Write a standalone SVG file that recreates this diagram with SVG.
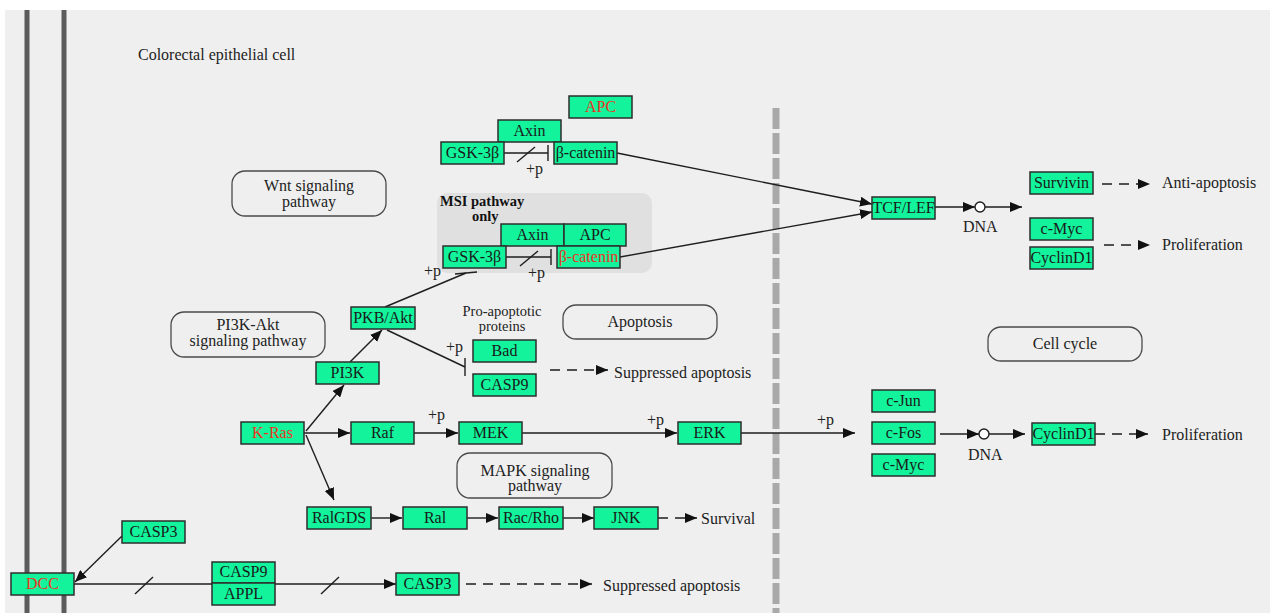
<svg xmlns="http://www.w3.org/2000/svg" width="1270" height="613" viewBox="0 0 1270 613">
<style>
.bg{fill:#efefef}
.n rect{fill:#12f39b;stroke:#2e2e2e;stroke-width:1.5}
.n text,.lbl{font-family:"Liberation Serif","Times New Roman",serif;font-size:16px;fill:#1a1a1a}
.n text{text-anchor:middle}
.red{fill:#ee3322 !important}
.pw rect{fill:none;stroke:#4a4a4a;stroke-width:1.3}
.pw text{font-family:"Liberation Serif","Times New Roman",serif;font-size:16px;fill:#222;text-anchor:middle}
.c line,.c path{stroke:#1e1e1e;stroke-width:1.4;fill:none}
.a{marker-end:url(#ah)}
.d{stroke-dasharray:10 7}
.mem{stroke:#5b5b5b;stroke-width:5}
.lbl{fill:#222}
.sm{font-size:14.5px}
</style>
<defs>
<marker id="ah" viewBox="0 0 12 10" refX="12" refY="5" markerWidth="12" markerHeight="10" markerUnits="userSpaceOnUse" orient="auto">
<path d="M0,0 L12,5 L0,10 z" fill="#111"/>
</marker>
</defs>
<rect width="1270" height="613" fill="#ffffff"/>
<rect class="bg" x="5" y="10" width="1265" height="603"/>
<line class="mem" x1="27" y1="10" x2="27" y2="613"/>
<line class="mem" x1="64" y1="10" x2="64" y2="613"/>
<line x1="776" y1="108" x2="776" y2="613" stroke="#a9a9a9" stroke-width="7" stroke-dasharray="21 4"/>
<text class="lbl" x="138" y="60">Colorectal epithelial cell</text>

<g id="msi-group">
<rect x="437" y="193" width="215" height="80" rx="10" fill="#e0e0e0"/>
<text x="440" y="206" font-family="Liberation Serif,serif" font-size="14.5" font-weight="bold" fill="#111">MSI pathway</text>
<text x="472" y="221" font-family="Liberation Serif,serif" font-size="14.5" font-weight="bold" fill="#111">only</text>
</g>

<g id="pathways" class="pw">
<g id="wnt"><rect x="232" y="171" width="154" height="45" rx="13"/><text x="309" y="191">Wnt signaling</text><text x="309" y="207">pathway</text></g>
<g id="pi3k-akt"><rect x="171" y="312" width="154" height="45" rx="13"/><text x="248" y="330">PI3K-Akt</text><text x="248" y="346">signaling pathway</text></g>
<g id="apoptosis"><rect x="563" y="305" width="154" height="34" rx="13"/><text x="640" y="327">Apoptosis</text></g>
<g id="cellcycle"><rect x="988" y="327" width="154" height="34" rx="13"/><text x="1065" y="349">Cell cycle</text></g>
<g id="mapk"><rect x="457" y="453" width="155" height="45" rx="13"/><text x="535" y="476">MAPK signaling</text><text x="535" y="491">pathway</text></g>
</g>

<g id="connectors" class="c">
<line x1="504" y1="153" x2="548" y2="153"/><line x1="548" y1="145" x2="548" y2="161"/><line x1="517" y1="162" x2="535" y2="147"/>
<line x1="506" y1="257" x2="551" y2="257"/><line x1="551" y1="249" x2="551" y2="265"/><line x1="520" y1="266" x2="538" y2="251"/>
<line class="a" x1="617" y1="153" x2="872" y2="204"/>
<line class="a" x1="620" y1="257" x2="872" y2="212"/>
<line class="a" x1="935" y1="207" x2="975" y2="207"/>
<line class="a" x1="985" y1="207" x2="1022" y2="207"/>
<line class="a d" x1="1102" y1="184" x2="1150" y2="184"/>
<line class="a d" x1="1104" y1="245" x2="1150" y2="245"/>
<line x1="385" y1="307" x2="466" y2="273"/><line x1="455" y1="274" x2="477" y2="272"/>
<line x1="387" y1="330" x2="465" y2="367"/><line x1="465" y1="358" x2="465" y2="376"/>
<line class="a d" x1="550" y1="370" x2="608" y2="370"/>
<line class="a" x1="306" y1="431" x2="344" y2="385"/>
<line class="a" x1="350" y1="362" x2="382" y2="330"/>
<line class="a" x1="304" y1="433" x2="350" y2="433"/>
<line class="a" x1="414" y1="433" x2="458" y2="433"/>
<line class="a" x1="522" y1="433" x2="677" y2="433"/>
<line class="a" x1="741" y1="433" x2="855" y2="433"/>
<line class="a" x1="940" y1="434" x2="979" y2="434"/>
<line class="a" x1="989" y1="434" x2="1025" y2="434"/>
<line class="a d" x1="1095" y1="434" x2="1148" y2="434"/>
<line class="a" x1="306" y1="435" x2="334" y2="500"/>
<line class="a" x1="371" y1="518" x2="402" y2="518"/>
<line class="a" x1="467" y1="518" x2="498" y2="518"/>
<line class="a" x1="563" y1="518" x2="594" y2="518"/>
<line class="a d" x1="658" y1="518" x2="697" y2="518"/>
<line class="a" x1="122" y1="536" x2="75" y2="582"/>
<line class="a" x1="74" y1="584" x2="396" y2="584"/>
<line x1="135" y1="594" x2="153" y2="577"/><line x1="321" y1="594" x2="339" y2="577"/>
<line class="a d" x1="466" y1="584" x2="592" y2="584"/>
<circle cx="980" cy="207" r="5" fill="#fff" stroke="#1e1e1e" stroke-width="1.4"/>
<circle cx="984" cy="434" r="5" fill="#fff" stroke="#1e1e1e" stroke-width="1.4"/>
</g>

<g id="labels">
<text class="lbl" x="526" y="174">+p</text>
<text class="lbl" x="528" y="278">+p</text>
<text class="lbl" x="424" y="276">+p</text>
<text class="lbl" x="446" y="352">+p</text>
<text class="lbl" x="428" y="420">+p</text>
<text class="lbl" x="647" y="425">+p</text>
<text class="lbl" x="817" y="425">+p</text>
<text class="lbl" x="963" y="232">DNA</text>
<text class="lbl" x="968" y="460">DNA</text>
<text class="lbl" x="1162" y="188">Anti-apoptosis</text>
<text class="lbl" x="1162" y="250">Proliferation</text>
<text class="lbl" x="1162" y="440">Proliferation</text>
<text class="lbl" x="614" y="378">Suppressed apoptosis</text>
<text class="lbl" x="701" y="524">Survival</text>
<text class="lbl" x="603" y="591">Suppressed apoptosis</text>
<text class="lbl sm" x="502" y="316" text-anchor="middle">Pro-apoptotic</text>
<text class="lbl sm" x="502" y="331" text-anchor="middle">proteins</text>
</g>

<g id="nodes">
<g id="apc1" class="n"><rect x="569" y="96" width="63" height="22"/><text x="600.5" y="112" class="red">APC</text></g>
<g id="axin1" class="n"><rect x="498" y="120" width="63" height="22"/><text x="529.5" y="136">Axin</text></g>
<g id="gsk1" class="n"><rect x="441" y="142" width="63" height="22"/><text x="472.5" y="158">GSK-3β</text></g>
<g id="bcat1" class="n"><rect x="554" y="142" width="63" height="22"/><text x="585.5" y="158">β-catenin</text></g>
<g id="axin2" class="n"><rect x="501" y="224" width="63" height="22"/><text x="532.5" y="240">Axin</text></g>
<g id="apc2" class="n"><rect x="564" y="224" width="62" height="22"/><text x="595" y="240">APC</text></g>
<g id="gsk2" class="n"><rect x="443" y="246" width="63" height="22"/><text x="474.5" y="262">GSK-3β</text></g>
<g id="bcat2" class="n"><rect x="557" y="246" width="63" height="22"/><text x="588.5" y="262" class="red">β-catenin</text></g>
<g id="tcflef" class="n"><rect x="872" y="197" width="63" height="22"/><text x="903.5" y="213">TCF/LEF</text></g>
<g id="survivin" class="n"><rect x="1030" y="172" width="63" height="22"/><text x="1061.5" y="188">Survivin</text></g>
<g id="cmyc1" class="n"><rect x="1030" y="218" width="63" height="22"/><text x="1061.5" y="234">c-Myc</text></g>
<g id="cyclind1a" class="n"><rect x="1030" y="247" width="63" height="22"/><text x="1061.5" y="263">CyclinD1</text></g>
<g id="pkb" class="n"><rect x="351" y="307" width="64" height="22"/><text x="383" y="323">PKB/Akt</text></g>
<g id="pi3k" class="n"><rect x="316" y="362" width="63" height="22"/><text x="347.5" y="378">PI3K</text></g>
<g id="bad" class="n"><rect x="473" y="340" width="63" height="22"/><text x="504.5" y="356">Bad</text></g>
<g id="casp9a" class="n"><rect x="473" y="374" width="63" height="22"/><text x="504.5" y="390">CASP9</text></g>
<g id="kras" class="n"><rect x="241" y="422" width="63" height="22"/><text x="272.5" y="438" class="red">K-Ras</text></g>
<g id="raf" class="n"><rect x="351" y="422" width="63" height="22"/><text x="382.5" y="438">Raf</text></g>
<g id="mek" class="n"><rect x="459" y="422" width="63" height="22"/><text x="490.5" y="438">MEK</text></g>
<g id="erk" class="n"><rect x="678" y="422" width="63" height="22"/><text x="709.5" y="438">ERK</text></g>
<g id="cjun" class="n"><rect x="872" y="390" width="63" height="22"/><text x="903.5" y="406">c-Jun</text></g>
<g id="cfos" class="n"><rect x="872" y="422" width="63" height="22"/><text x="903.5" y="438">c-Fos</text></g>
<g id="cmyc2" class="n"><rect x="872" y="454" width="63" height="22"/><text x="903.5" y="470">c-Myc</text></g>
<g id="cyclind1b" class="n"><rect x="1032" y="423" width="63" height="22"/><text x="1063.5" y="439">CyclinD1</text></g>
<g id="ralgds" class="n"><rect x="307" y="507" width="64" height="22"/><text x="339" y="523">RalGDS</text></g>
<g id="ral" class="n"><rect x="403" y="507" width="64" height="22"/><text x="435" y="523">Ral</text></g>
<g id="racrho" class="n"><rect x="499" y="507" width="64" height="22"/><text x="531" y="523">Rac/Rho</text></g>
<g id="jnk" class="n"><rect x="594" y="507" width="64" height="22"/><text x="626" y="523">JNK</text></g>
<g id="casp3a" class="n"><rect x="122" y="521" width="63" height="22"/><text x="153.5" y="537">CASP3</text></g>
<g id="dcc" class="n"><rect x="11" y="573" width="63" height="22"/><text x="42.5" y="589" class="red">DCC</text></g>
<g id="casp9appl" class="n"><rect x="212" y="562" width="63" height="21"/><text x="243.5" y="577">CASP9</text><rect x="212" y="583" width="63" height="22"/><text x="243.5" y="599">APPL</text></g>
<g id="casp3b" class="n"><rect x="396" y="573" width="63" height="22"/><text x="427.5" y="589">CASP3</text></g>
</g>
</svg>
